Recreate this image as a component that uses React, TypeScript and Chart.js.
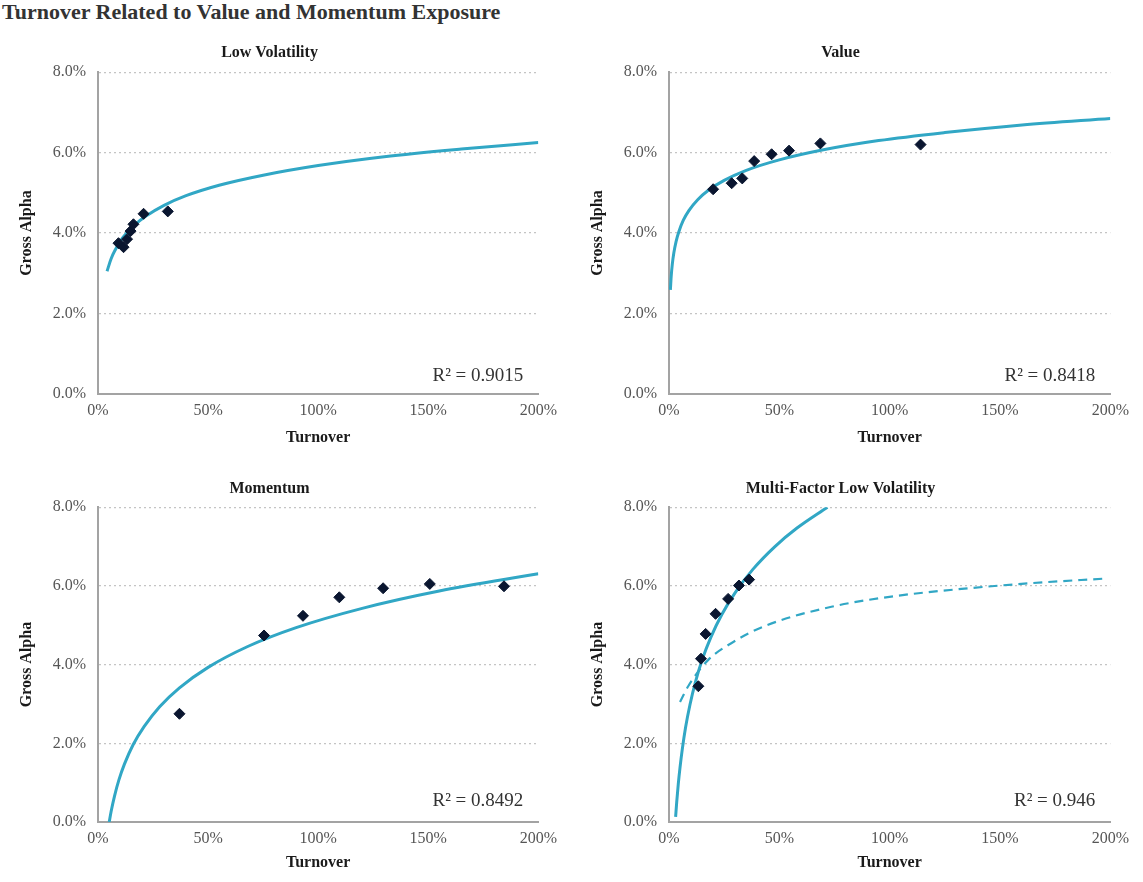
import React, { useEffect, useRef } from "react";
import { Chart, registerables } from "chart.js";

Chart.register(...registerables);

// ---------- data ----------
const xTickValues = [0, 50, 100, 150, 200];
const yTickValues = [0, 2, 4, 6, 8];

// Low Volatility
const lowVolTurnover = [9.3, 11.6, 13.2, 14.8, 16.1, 20.7, 31.7];
const lowVolAlpha = [3.75, 3.65, 3.85, 4.05, 4.22, 4.48, 4.54];
const lowVolTrendX = [4.1, 6, 8, 10, 13, 17, 22, 30, 40, 55, 75, 100, 130, 165, 200];
const lowVolTrendY = [3.05, 3.37, 3.6, 3.79, 4.0, 4.22, 4.43, 4.69, 4.93, 5.19, 5.44, 5.68, 5.9, 6.09, 6.25];

// Value
const valueTurnover = [20.0, 28.4, 33.2, 38.6, 46.5, 54.4, 68.6, 114.0];
const valueAlpha = [5.09, 5.24, 5.36, 5.79, 5.96, 6.05, 6.23, 6.2];
const valueTrendX = [0.63, 1, 1.5, 2.2, 3.2, 4.5, 6.5, 9, 13, 18, 25, 35, 50, 70, 95, 125, 160, 200];
const valueTrendY = [2.59, 2.93, 3.23, 3.51, 3.79, 4.04, 4.32, 4.56, 4.83, 5.07, 5.31, 5.56, 5.82, 6.07, 6.3, 6.5, 6.69, 6.85];

// Momentum
const momTurnover = [37.0, 75.4, 93.1, 109.6, 129.5, 150.7, 184.4];
const momAlpha = [2.75, 4.74, 5.24, 5.71, 5.94, 6.05, 5.99];
const momTrendX = [5.1, 6, 7.5, 9.5, 12, 16, 21, 28, 37, 50, 68, 90, 120, 155, 200];
const momTrendY = [0.0, 0.28, 0.66, 1.07, 1.47, 1.97, 2.43, 2.93, 3.41, 3.93, 4.46, 4.94, 5.43, 5.87, 6.31];

// Multi-Factor Low Volatility
const mflvTurnover = [13.3, 14.5, 16.6, 21.1, 26.8, 31.7, 36.3];
const mflvAlpha = [3.45, 4.15, 4.78, 5.29, 5.67, 6.01, 6.16];
const mflvTrendX = [3.0, 3.5, 4.2, 5, 6, 7.5, 9.5, 12, 15, 19, 24, 30, 38, 48, 58, 71.8];
const mflvTrendY = [0.13, 0.51, 0.96, 1.39, 1.84, 2.4, 2.98, 3.56, 4.12, 4.7, 5.28, 5.83, 6.42, 7.0, 7.47, 8.0];
const mflvLowVolTrendX = [5.0, 8.7, 17.8, 28.4, 43.4, 73.6, 103.7, 133.9, 164.1, 198.8];
const mflvLowVolTrendY = [3.05, 3.45, 4.12, 4.55, 4.98, 5.47, 5.75, 5.93, 6.07, 6.19];

const r2Labels = ["R\u00B2 = 0.9015", "R\u00B2 = 0.8418", "R\u00B2 = 0.8492", "R\u00B2 = 0.946"];
const panelTitles = ["Low Volatility", "Value", "Momentum", "Multi-Factor Low Volatility"];

// ---------- style ----------
const TEAL = "#31a7c5";
const MARK = "#0a1630";
const SERIF = '"Liberation Serif", "Times New Roman", serif';

const zip = (xs: number[], ys: number[]) => xs.map((x, i) => ({ x, y: ys[i] }));

type PanelSpec = {
  title: string;
  r2: string;
  left: number;
  top: number;
  width: number;
  height: number;
  yAxisWidth: number;
  titlePadTop: number;
  titlePadBottom: number;
  yTitlePad: number;
  xTitlePad: number;
  r2Dy: number;
  points: { x: number; y: number }[];
  trend: { x: number; y: number }[];
  dashed?: { x: number; y: number }[];
};

const panels: PanelSpec[] = [
  {
    title: panelTitles[0], r2: r2Labels[0],
    left: 0, top: 30, width: 564, height: 424, yAxisWidth: 98,
    titlePadTop: 13, titlePadBottom: 10, yTitlePad: 17, xTitlePad: 7, r2Dy: 18,
    points: zip(lowVolTurnover, lowVolAlpha), trend: zip(lowVolTrendX, lowVolTrendY),
  },
  {
    title: panelTitles[1], r2: r2Labels[1],
    left: 570, top: 30, width: 566, height: 424, yAxisWidth: 99,
    titlePadTop: 13, titlePadBottom: 10, yTitlePad: 18, xTitlePad: 7, r2Dy: 18,
    points: zip(valueTurnover, valueAlpha), trend: zip(valueTrendX, valueTrendY),
  },
  {
    title: panelTitles[2], r2: r2Labels[2],
    left: 0, top: 466, width: 564, height: 416, yAxisWidth: 98,
    titlePadTop: 13, titlePadBottom: 9, yTitlePad: 17, xTitlePad: 10, r2Dy: 21,
    points: zip(momTurnover, momAlpha), trend: zip(momTrendX, momTrendY),
  },
  {
    title: panelTitles[3], r2: r2Labels[3],
    left: 570, top: 466, width: 566, height: 416, yAxisWidth: 99,
    titlePadTop: 13, titlePadBottom: 9, yTitlePad: 18, xTitlePad: 10, r2Dy: 21,
    points: zip(mflvTurnover, mflvAlpha), trend: zip(mflvTrendX, mflvTrendY),
    dashed: zip(mflvLowVolTrendX, mflvLowVolTrendY),
  },
];

function PanelChart({ spec }: { spec: PanelSpec }) {
  const ref = useRef<HTMLCanvasElement | null>(null);

  useEffect(() => {
    if (!ref.current) return;
    const datasets: any[] = [
      {
        data: spec.points,
        showLine: false,
        pointStyle: "rectRot",
        pointRadius: 5.5,
        pointBackgroundColor: MARK,
        pointBorderColor: MARK,
        pointBorderWidth: 1,
      },
      {
        data: spec.trend,
        showLine: true,
        borderColor: TEAL,
        borderWidth: 3,
        pointRadius: 0,
        cubicInterpolationMode: "monotone",
        fill: false,
      },
    ];
    if (spec.dashed) {
      datasets.push({
        data: spec.dashed,
        showLine: true,
        borderColor: TEAL,
        borderWidth: 2.2,
        borderDash: [9, 6],
        pointRadius: 0,
        cubicInterpolationMode: "monotone",
        fill: false,
      });
    }

    const r2Plugin = {
      id: "r2label",
      afterDatasetsDraw(chart: any) {
        const { ctx, chartArea } = chart;
        ctx.save();
        ctx.font = `19px ${SERIF}`;
        ctx.fillStyle = "#333";
        ctx.textAlign = "right";
        ctx.textBaseline = "middle";
        ctx.fillText(spec.r2, chartArea.right - 15, chartArea.bottom - spec.r2Dy);
        ctx.restore();
      },
    };

    const chart = new Chart(ref.current, {
      type: "scatter",
      data: { datasets },
      plugins: [r2Plugin],
      options: {
        responsive: false,
        animation: false,
        layout: { padding: { left: 0, right: 25, top: 0, bottom: 0 } },
        plugins: {
          legend: { display: false },
          tooltip: { enabled: false },
          title: {
            display: true,
            text: spec.title,
            color: "#1a1a1a",
            font: { family: SERIF, size: 16, weight: "bold" },
            padding: { top: spec.titlePadTop, bottom: spec.titlePadBottom },
          },
        },
        scales: {
          x: {
            type: "linear",
            min: 0,
            max: 200,
            afterBuildTicks: (s: any) => {
              s.ticks = xTickValues.map((v) => ({ value: v }));
            },
            afterFit: (s: any) => {
              s.height = 60;
            },
            grid: { display: false, drawTicks: false },
            border: { display: true, color: "#a3a3a3", width: 2 },
            ticks: {
              padding: 7,
              color: "#555",
              font: { family: SERIF, size: 16 },
              maxRotation: 0,
              callback: (v: any) => `${v}%`,
            },
            title: {
              display: true,
              text: "Turnover",
              color: "#1a1a1a",
              font: { family: SERIF, size: 16, weight: "bold" },
              padding: { top: 0, bottom: spec.xTitlePad },
            },
          },
          y: {
            type: "linear",
            min: 0,
            max: 8,
            afterBuildTicks: (s: any) => {
              s.ticks = yTickValues.map((v) => ({ value: v }));
            },
            afterFit: (s: any) => {
              s.width = spec.yAxisWidth;
            },
            grid: { display: true, color: "#c4c4c4", lineWidth: 1.3, drawTicks: false },
            border: { display: true, color: "#a3a3a3", width: 2, dash: [2, 3] },
            ticks: {
              padding: 12,
              color: "#555",
              font: { family: SERIF, size: 16 },
              callback: (v: any) => `${Number(v).toFixed(1)}%`,
            },
            title: {
              display: true,
              text: "Gross Alpha",
              color: "#1a1a1a",
              font: { family: SERIF, size: 16, weight: "bold" },
              padding: { top: spec.yTitlePad, bottom: 0 },
            },
          },
        },
      } as any,
    });
    return () => chart.destroy();
  }, [spec]);

  return (
    <div
      style={{
        position: "absolute",
        left: spec.left,
        top: spec.top,
        width: spec.width,
        height: spec.height,
      }}
    >
      <canvas ref={ref} width={spec.width} height={spec.height} style={{ width: spec.width, height: spec.height, display: "block" }} />
    </div>
  );
}

export default function App() {
  return (
    <div
      style={{
        position: "absolute",
        left: 0,
        top: 0,
        width: 1143,
        height: 882,
        background: "#fff",
        overflow: "hidden",
      }}
    >
      <div
        style={{
          position: "absolute",
          left: 2,
          top: 0,
          font: `bold 22px ${SERIF}`,
          lineHeight: "24px",
          color: "#333",
          whiteSpace: "nowrap",
        }}
      >
        Turnover Related to Value and Momentum Exposure
      </div>
      {panels.map((p) => (
        <PanelChart key={p.title} spec={p} />
      ))}
    </div>
  );
}
